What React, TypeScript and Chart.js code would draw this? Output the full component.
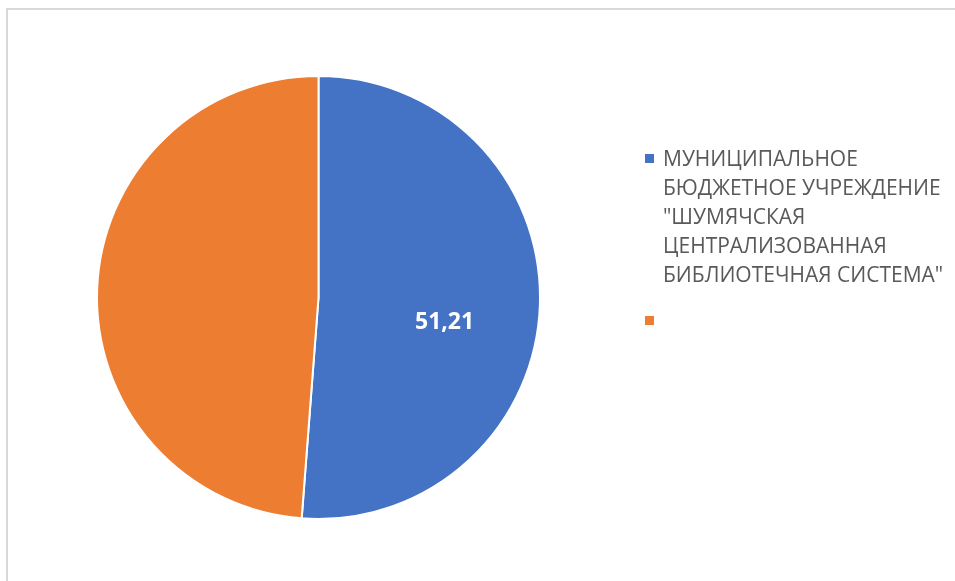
import React, { useEffect, useRef } from "react";
import { Chart, registerables } from "chart.js";

Chart.register(...registerables);

const categories: (string | string[])[] = [
  ["МУНИЦИПАЛЬНОЕ", "БЮДЖЕТНОЕ УЧРЕЖДЕНИЕ", "\"ШУМЯЧСКАЯ", "ЦЕНТРАЛИЗОВАННАЯ", "БИБЛИОТЕЧНАЯ СИСТЕМА\""],
  "",
];
const values = [51.21, 48.79];
const valueLabels = ["51,21", ""];
const colors = ["#4472C4", "#ED7D31"];

const frameAndLegend = {
  id: "frameAndLegend",
  beforeDraw(chart: any) {
    const ctx = chart.ctx;
    ctx.save();
    ctx.fillStyle = "#ffffff";
    ctx.fillRect(0, 0, chart.width, chart.height);
    ctx.fillStyle = "#d9d9d9";
    ctx.fillRect(6, 8, chart.width - 6, 2);
    ctx.fillRect(6, 8, 2, chart.height - 8);
    ctx.restore();
  },
  afterDraw(chart: any) {
    const ctx = chart.ctx;
    const meta = chart.getDatasetMeta(0);
    ctx.save();
    // value labels
    ctx.font = "bold 23px 'Open Sans'";
    ctx.fillStyle = "#ffffff";
    ctx.textAlign = "center";
    ctx.textBaseline = "middle";
    meta.data.forEach((arc: any, i: number) => {
      const txt = valueLabels[i];
      if (!txt) return;
      const p = arc.getProps(["x", "y", "startAngle", "endAngle", "outerRadius"], true);
      const mid = (p.startAngle + p.endAngle) / 2 + 0.155;
      const r = p.outerRadius * 0.58;
      ctx.fillText(txt, p.x + Math.cos(mid) * r, p.y + Math.sin(mid) * r);
    });
    // legend
    ctx.font = "21px 'Open Sans'";
    ctx.textAlign = "left";
    ctx.textBaseline = "alphabetic";
    let y = 166;
    const lineH = 29;
    chart.data.labels.forEach((lab: any, i: number) => {
      const lines = Array.isArray(lab) ? lab : [lab];
      ctx.fillStyle = colors[i];
      ctx.fillRect(645, y - 12, 9, 9);
      ctx.fillStyle = "#595959";
      lines.forEach((ln: string, k: number) => {
        ctx.fillText(ln, 663, y + k * lineH);
      });
      y += Math.max(lines.length, 1) * lineH + 17;
    });
    ctx.restore();
  },
};

export default function App() {
  const ref = useRef<HTMLCanvasElement>(null);
  useEffect(() => {
    if (!ref.current) return;
    const chart = new Chart(ref.current, {
      type: "pie",
      data: {
        labels: categories as any,
        datasets: [
          {
            data: values,
            backgroundColor: colors,
            borderColor: "#ffffff",
            borderWidth: 2,
          },
        ],
      },
      options: {
        responsive: false,
        animation: false,
        layout: { padding: { left: 96, top: 75, right: 414, bottom: 61 } },
        plugins: {
          legend: { display: false },
          tooltip: { enabled: false },
        },
      },
      plugins: [frameAndLegend],
    });
    return () => chart.destroy();
  }, []);
  return (
    <div style={{ position: "fixed", left: 0, top: 0, width: 955, height: 581, background: "#fff" }}>
      <canvas ref={ref} width={955} height={581} />
    </div>
  );
}
